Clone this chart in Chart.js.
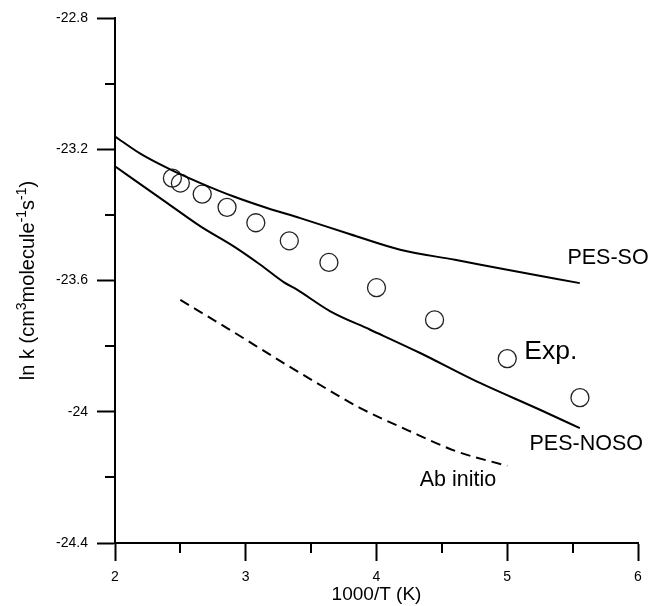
<!DOCTYPE html>
<html>
<head>
<meta charset="utf-8">
<script src="https://cdn.jsdelivr.net/npm/chart.js@4.4.1/dist/chart.umd.min.js"></script>
<style>
  html, body { margin: 0; padding: 0; background: #fff; }
  #wrap { width: 650px; height: 606px; }
</style>
</head>
<body>
<div id="wrap"><canvas id="rateChart" width="650" height="606"></canvas></div>
<script>
// 1000/T (K) against ln k
const soX = [2.0, 2.2, 2.425, 2.654, 2.908, 3.163, 3.417, 3.799, 4.181, 4.6, 5.0, 5.555];
const soY = [-23.161, -23.215, -23.262, -23.303, -23.344, -23.379, -23.410, -23.459, -23.506, -23.537, -23.567, -23.608];

const nosoX = [2.0, 2.4, 2.654, 2.908, 3.112, 3.29, 3.392, 3.647, 3.952, 4.334, 4.742, 5.25, 5.555];
const nosoY = [-23.252, -23.364, -23.435, -23.496, -23.552, -23.605, -23.628, -23.694, -23.750, -23.821, -23.903, -23.994, -24.05];

const abX = [2.5, 2.857, 3.333, 3.721, 3.876, 4.232, 4.614, 5.0];
const abY = [-23.659, -23.745, -23.862, -23.954, -23.989, -24.055, -24.121, -24.165];

const expX = [2.439, 2.5, 2.667, 2.857, 3.077, 3.333, 3.636, 4.0, 4.444, 5.0, 5.556];
const expY = [-23.288, -23.303, -23.337, -23.377, -23.424, -23.479, -23.545, -23.622, -23.720, -23.838, -23.957];

const xMinorTicks = [2.5, 3.5, 4.5, 5.5];
const yMinorTicks = [-23.0, -23.4, -23.8, -24.2];

const FONT = "'Liberation Sans', Arial, sans-serif";

const toPts = (xs, ys) => xs.map((x, i) => ({ x: x, y: ys[i] }));

// curve labels, placed in data units
const curveLabels = [
    { text: 'PES-SO', x: 5.46, y: -23.531, size: 21.5 },
    { text: 'Exp.', x: 5.13, y: -23.817, size: 26.5 },
    { text: 'PES-NOSO', x: 5.17, y: -24.10, size: 21.5 },
    { text: 'Ab initio', x: 4.33, y: -24.207, size: 21.5 }
];

const minorTicks = {
    id: 'minorTicks',
    afterDraw(chart) {
        const { ctx, chartArea, scales } = chart;
        ctx.save();
        ctx.strokeStyle = '#000';
        ctx.lineWidth = 2;
        ctx.beginPath();
        xMinorTicks.forEach(v => {
            const px = Math.round(scales.x.getPixelForValue(v));
            ctx.moveTo(px, chartArea.bottom);
            ctx.lineTo(px, chartArea.bottom + 10);
        });
        yMinorTicks.forEach(v => {
            const py = Math.round(scales.y.getPixelForValue(v));
            ctx.moveTo(chartArea.left - 10, py);
            ctx.lineTo(chartArea.left, py);
        });
        ctx.stroke();
        ctx.restore();
    }
};

const textLabels = {
    id: 'textLabels',
    afterDraw(chart) {
        const { ctx, scales } = chart;
        ctx.save();
        ctx.fillStyle = '#000';
        ctx.textBaseline = 'middle';
        ctx.textAlign = 'left';
        curveLabels.forEach(l => {
            ctx.font = l.size + 'px ' + FONT;
            ctx.fillText(l.text, scales.x.getPixelForValue(l.x), scales.y.getPixelForValue(l.y));
        });
        ctx.restore();
    }
};

// y title with real superscripts
const yTitle = {
    id: 'yTitle',
    afterDraw(chart) {
        const { ctx, chartArea } = chart;
        const parts = [
            ['ln k (cm', false], ['3', true], ['molecule', false], ['-1', true],
            ['s', false], ['-1', true], [')', false]
        ];
        const big = '20px ' + FONT, small = '14px ' + FONT;
        let total = 0;
        parts.forEach(p => { ctx.font = p[1] ? small : big; total += ctx.measureText(p[0]).width; });
        ctx.save();
        ctx.translate(34, (chartArea.top + chartArea.bottom) / 2);
        ctx.rotate(-Math.PI / 2);
        ctx.fillStyle = '#000';
        ctx.textBaseline = 'alphabetic';
        let x = -total / 2;
        parts.forEach(p => {
            ctx.font = p[1] ? small : big;
            ctx.fillText(p[0], x, p[1] ? -8 : 0);
            x += ctx.measureText(p[0]).width;
        });
        ctx.restore();
    }
};

new Chart(document.getElementById('rateChart'), {
    type: 'scatter',
    data: {
        datasets: [
            {
                label: 'PES-SO',
                data: toPts(soX, soY),
                showLine: true,
                borderColor: '#000',
                borderWidth: 2,
                pointRadius: 0,
                cubicInterpolationMode: 'monotone'
            },
            {
                label: 'PES-NOSO',
                data: toPts(nosoX, nosoY),
                showLine: true,
                borderColor: '#000',
                borderWidth: 2,
                pointRadius: 0,
                cubicInterpolationMode: 'monotone'
            },
            {
                label: 'Ab initio',
                data: toPts(abX, abY),
                showLine: true,
                borderColor: '#000',
                borderWidth: 2,
                borderDash: [10, 6],
                pointRadius: 0,
                cubicInterpolationMode: 'monotone'
            },
            {
                label: 'Exp.',
                data: toPts(expX, expY),
                showLine: false,
                pointRadius: 9,
                pointBorderWidth: 1.3,
                pointBorderColor: '#222',
                pointBackgroundColor: 'rgba(0,0,0,0)'
            }
        ]
    },
    options: {
        responsive: false,
        animation: false,
        devicePixelRatio: 1,
        layout: { padding: { top: 18, right: 12, bottom: 0, left: 0 } },
        plugins: {
            legend: { display: false },
            tooltip: { enabled: false }
        },
        scales: {
            x: {
                type: 'linear',
                min: 2,
                max: 6,
                afterFit(scale) { scale.height = 63; },
                ticks: {
                    stepSize: 1,
                    color: '#000',
                    padding: 8,
                    font: { family: FONT, size: 14 }
                },
                grid: {
                    drawOnChartArea: false,
                    drawTicks: true,
                    tickLength: 18,
                    tickWidth: 2,
                    tickColor: '#000'
                },
                border: { display: true, color: '#000', width: 2 },
                title: {
                    display: true,
                    text: '1000/T (K)',
                    color: '#000',
                    padding: 0,
                    font: { family: FONT, size: 19 }
                }
            },
            y: {
                type: 'linear',
                min: -24.4,
                max: -22.8,
                afterFit(scale) { scale.width = 115; },
                ticks: {
                    stepSize: 0.4,
                    color: '#000',
                    padding: 9,
                    font: { family: FONT, size: 14 },
                    callback: v => String(Number(v.toFixed(1)))
                },
                grid: {
                    drawOnChartArea: false,
                    drawTicks: true,
                    tickLength: 18,
                    tickWidth: 2,
                    tickColor: '#000'
                },
                border: { display: true, color: '#000', width: 2 }
            }
        }
    },
    plugins: [minorTicks, textLabels, yTitle]
});
</script>
</body>
</html>
